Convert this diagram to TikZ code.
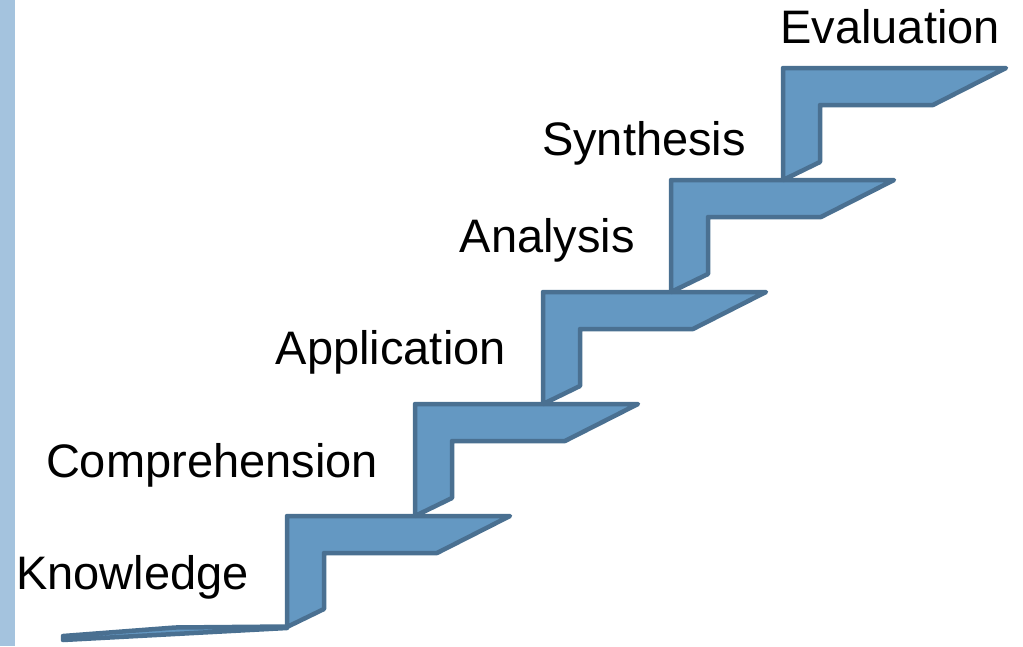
\documentclass[tikz,border=0pt]{standalone}
\usepackage{fontspec}
\setmainfont{Liberation Sans}
\definecolor{stepfill}{HTML}{6498C2}
\definecolor{stepline}{HTML}{4A7091}
\definecolor{barblue}{HTML}{A4C3DE}
\begin{document}
\begin{tikzpicture}[x=1pt,y=-1pt,
  stair/.style={fill=stepfill,draw=stepline,line width=4.5pt,line join=round},
  lbl/.style={anchor=base east,inner sep=0pt,font=\fontsize{47}{56}\selectfont}]
\useasboundingbox (0,0) rectangle (1023,646);
\fill[barblue] (0,0) rectangle (15,646);
% bottom tread
\draw[stair] (63,636) -- (175,627.5) -- (287,626.5) -- (287,628) -- (63,640) -- cycle;
% steps
\foreach \x/\t/\b in {287/516/627,415/404/516,543/292/404,671/180/292,783/68/180}{
  \draw[stair] (\x,\b) -- (\x,\t) -- (\x+223,\t) -- (\x+150,\t+37) -- (\x+37,\t+37) -- (\x+37,\b-18) -- cycle;
}
\node[lbl] (knowledge) at (249,589) {Knowledge};
\node[lbl] (comprehension) at (378,477) {Comprehension};
\node[lbl] (application) at (506,364) {Application};
\node[lbl] (analysis) at (635,252) {Analysis};
\node[lbl] (synthesis) at (746,155) {Synthesis};
\node[lbl] (evaluation) at (1000,43) {Evaluation};
\end{tikzpicture}
\end{document}
